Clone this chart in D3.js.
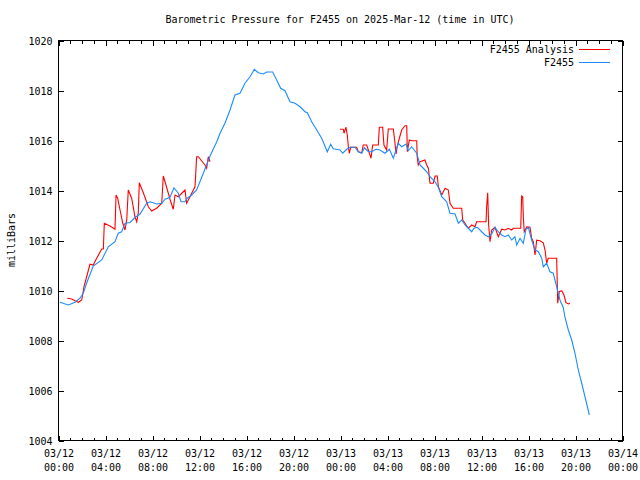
<!DOCTYPE html>
<html>
<head>
<meta charset="utf-8">
<script src="https://cdn.jsdelivr.net/npm/d3@7"></script>
<style>
  html, body { margin: 0; padding: 0; background: #fff; }
  svg { display: block; }
  text { font-family: "DejaVu Sans Mono", "Liberation Mono", monospace; font-size: 10px; fill: #000; }
</style>
</head>
<body>
<svg id="chart" width="640" height="480"></svg>
<script>
// ---- DATA (hours since 2025-03-12 00:00 UTC, pressure in millibars) ----
const chartTitle = "Barometric Pressure for F2455 on 2025-Mar-12 (time in UTC)";
const yLabel = "milliBars";
const seriesNames = ["F2455 Analysis", "F2455"];
const yTickValues = [1004, 1006, 1008, 1010, 1012, 1014, 1016, 1018, 1020];

const analysisHours = [
  0.79, 1.17, 1.45, 1.73, 2.02, 2.21, 2.44, 2.72, 3.00, 3.29, 3.72, 3.86, 3.94, 4.43, 4.85, 4.94,
  5.08, 5.28, 5.51, 5.70, 5.85, 5.98, 6.27, 6.55, 6.70, 6.83, 6.92, 7.26, 7.69, 7.97, 8.40, 8.83,
  8.96, 9.11, 9.39, 9.53, 9.81, 9.96, 10.24, 10.53, 10.81, 10.95, 11.23, 11.66, 11.80, 11.94, 12.51, 12.65,
  12.79, 12.94, 18.00,
  24.00, 24.28, 24.34, 24.51, 24.62, 24.71, 24.79, 24.91, 25.42, 25.56, 25.85, 25.98, 26.27, 26.41, 26.64, 26.78,
  27.26, 27.35, 27.63, 27.74, 27.97, 28.11, 28.54, 28.68, 28.77, 28.88, 29.05, 29.25, 29.53, 29.68, 29.73, 29.90,
  30.10, 30.53, 30.57, 30.66, 30.81, 31.23, 31.38, 31.52, 31.66, 31.94, 32.09, 32.28, 32.37, 32.66, 32.94, 33.22,
  33.36, 33.64, 34.36, 34.44, 34.64, 34.92, 35.21, 35.49, 35.63, 36.43, 36.48, 36.57, 36.65, 36.77, 36.91, 37.19,
  37.47, 37.76, 38.04, 38.32, 38.61, 38.75, 39.38, 39.46, 39.55, 39.60, 39.68, 39.89, 40.17, 40.31, 40.45, 40.60,
  40.74, 41.02, 41.30, 41.45, 41.59, 41.72, 42.44, 42.53, 42.66, 42.87, 43.06, 43.23, 43.43, 43.57
];
const analysisPressure = [
  1009.67, 1009.64, 1009.57, 1009.51, 1009.60, 1010.13, 1010.53, 1011.03, 1011.00, 1011.27, 1011.64, 1011.64, 1012.67, 1012.56, 1012.43, 1013.80,
  1013.67, 1013.20, 1012.67, 1012.40, 1012.80, 1014.00, 1013.67, 1012.93, 1012.73, 1013.07, 1014.29, 1013.89, 1013.33, 1013.16, 1013.27, 1013.47,
  1014.56, 1014.33, 1013.87, 1013.63, 1013.23, 1013.80, 1013.73, 1013.87, 1014.00, 1013.47, 1013.73, 1014.13, 1015.33, 1015.33, 1015.00, 1014.87,
  1015.33, 1015.13, null,
  1016.43, 1016.43, 1016.27, 1016.51, 1016.20, 1015.73, 1015.47, 1015.71, 1015.71, 1015.53, 1015.49, 1015.80, 1015.80, 1015.60, 1015.27, 1015.80,
  1015.80, 1016.51, 1016.51, 1015.80, 1015.60, 1016.44, 1016.44, 1015.87, 1015.44, 1015.76, 1016.07, 1016.40, 1016.57, 1016.57, 1015.53, 1016.00,
  1015.97, 1015.97, 1015.33, 1015.00, 1015.13, 1015.20, 1015.00, 1014.87, 1014.27, 1014.27, 1014.56, 1014.56, 1014.13, 1013.80, 1014.07, 1014.00,
  1013.47, 1013.27, 1013.27, 1012.80, 1012.67, 1012.47, 1012.60, 1012.53, 1012.73, 1012.73, 1013.33, 1013.89, 1012.60, 1011.93, 1012.40, 1012.51,
  1012.13, 1012.43, 1012.40, 1012.47, 1012.40, 1012.47, 1012.47, 1013.76, 1013.73, 1012.93, 1012.33, 1012.53, 1012.51, 1012.07, 1011.93, 1011.40,
  1011.99, 1011.97, 1011.89, 1011.60, 1011.07, 1011.27, 1011.27, 1009.47, 1009.93, 1009.97, 1009.80, 1009.49, 1009.44, 1009.47
];

const stationHours = [
  0.17, 0.88, 1.45, 1.87, 2.15, 2.44, 2.87, 3.00, 3.72, 4.28, 4.85, 5.13, 5.42, 5.70, 6.13, 6.55,
  6.98, 7.55, 7.83, 8.40, 8.83, 9.11, 9.53, 9.87, 10.24, 10.47, 10.81, 11.00, 11.38, 11.80, 12.37, 12.94,
  13.51, 13.79, 14.21, 14.64, 15.06, 15.49, 15.91, 16.34, 16.71, 17.05, 17.47, 17.76, 18.27, 18.61, 18.95, 19.32,
  19.74, 20.17, 20.60, 21.02, 21.22, 21.59, 22.02, 22.44, 22.92, 23.21, 23.43, 24.00, 24.23, 24.57, 24.85, 25.28,
  25.56, 25.85, 26.07, 26.41, 26.70, 27.06, 27.40, 27.83, 28.20, 28.54, 28.96, 29.25, 29.62, 29.81, 30.10, 30.53,
  30.81, 31.09, 31.38, 31.66, 32.09, 32.37, 32.66, 33.08, 33.36, 33.79, 34.07, 34.36, 34.64, 34.92, 35.21, 35.40,
  35.69, 36.06, 36.34, 36.62, 36.91, 37.19, 37.47, 37.76, 38.04, 38.32, 38.61, 38.89, 39.04, 39.32, 39.60, 39.83,
  40.03, 40.31, 40.60, 40.88, 41.17, 41.30, 41.59, 41.87, 42.15, 42.44, 42.72, 43.00, 43.15, 43.43, 43.72, 44.00,
  44.28, 44.57, 44.85, 45.22
];
const stationPressure = [
  1009.51, 1009.40, 1009.51, 1009.67, 1009.87, 1010.28, 1010.80, 1010.96, 1011.20, 1011.73, 1011.93, 1012.27, 1012.33, 1012.67, 1012.70, 1012.90,
  1013.04, 1013.47, 1013.53, 1013.44, 1013.47, 1013.63, 1013.71, 1014.09, 1013.87, 1013.53, 1013.53, 1013.67, 1013.80, 1014.00, 1014.67, 1015.36,
  1015.93, 1016.27, 1016.67, 1017.20, 1017.80, 1017.87, 1018.27, 1018.53, 1018.83, 1018.69, 1018.64, 1018.72, 1018.72, 1018.40, 1018.07, 1017.97,
  1017.53, 1017.47, 1017.33, 1017.13, 1017.09, 1016.73, 1016.40, 1016.07, 1015.53, 1015.83, 1015.65, 1015.60, 1015.47, 1015.63, 1015.71, 1015.71,
  1015.53, 1015.47, 1015.69, 1015.53, 1015.53, 1015.63, 1015.60, 1015.47, 1015.63, 1015.27, 1015.87, 1015.73, 1015.84, 1015.57, 1015.73, 1015.47,
  1015.00, 1014.87, 1014.73, 1014.53, 1014.33, 1014.11, 1013.73, 1013.53, 1013.07, 1013.04, 1012.67, 1012.80, 1012.60, 1012.47, 1012.33, 1012.47,
  1012.51, 1012.33, 1012.20, 1012.13, 1012.24, 1012.51, 1012.33, 1012.20, 1012.13, 1012.20, 1012.00, 1012.13, 1011.80, 1012.07, 1011.87, 1012.43,
  1012.51, 1012.00, 1011.60, 1011.53, 1011.27, 1010.93, 1011.07, 1010.73, 1010.67, 1010.13, 1009.60, 1009.30, 1008.90, 1008.40, 1008.00, 1007.47,
  1006.80, 1006.27, 1005.73, 1005.00
];

// ---- CHART ----
const base = Date.UTC(2025, 2, 12, 0, 0);
const toDate = h => new Date(base + h * 3600000);
const analysis = analysisHours.map((h, i) => ({ t: toDate(h), v: analysisPressure[i] }));
const station = stationHours.map((h, i) => ({ t: toDate(h), v: stationPressure[i] }));

const plotL = 58, plotR = 622, plotT = 40, plotB = 440;
const svg = d3.select("#chart");

const x = d3.scaleUtc().domain([new Date(base), new Date(base + 48 * 3600000)]).range([plotL, plotR]);
const y = d3.scaleLinear().domain([1004, 1020]).range([plotB, plotT]);

const fontFam = '"DejaVu Sans Mono", "Liberation Mono", monospace';

// minor x ticks (hourly), bottom & top
svg.append("g").attr("transform", `translate(0.5,${plotB + 0.5})`)
  .call(d3.axisBottom(x).ticks(d3.utcHour.every(1)).tickSize(-3).tickFormat(""));
svg.append("g").attr("transform", `translate(0.5,${plotT + 0.5})`)
  .call(d3.axisTop(x).ticks(d3.utcHour.every(1)).tickSize(-3).tickFormat(""));

// major x ticks
const fmtDay = d3.utcFormat("%m/%d"), fmtTime = d3.utcFormat("%H:%M");
const xAxisB = svg.append("g").attr("transform", `translate(0.5,${plotB + 0.5})`)
  .call(d3.axisBottom(x).ticks(d3.utcHour.every(4)).tickSize(-5).tickPadding(0).tickFormat(""));
xAxisB.selectAll(".tick").each(function(d) {
  const t = d3.select(this).append("text")
    .attr("text-anchor", "middle").attr("fill", "#000")
    .style("font-family", fontFam).style("font-size", "10px");
  t.append("tspan").attr("x", 0).attr("y", 16).text(fmtDay(d));
  t.append("tspan").attr("x", 0).attr("y", 30).text(fmtTime(d));
});
svg.append("g").attr("transform", `translate(0.5,${plotT + 0.5})`)
  .call(d3.axisTop(x).ticks(d3.utcHour.every(4)).tickSize(-5).tickFormat(""));

// y ticks left & right
const yAxisL = svg.append("g").attr("transform", `translate(${plotL + 0.5},0.5)`)
  .call(d3.axisLeft(y).tickValues(yTickValues).tickSize(-5).tickPadding(6).tickFormat(d3.format("d")));
svg.append("g").attr("transform", `translate(${plotR + 0.5},0.5)`)
  .call(d3.axisRight(y).tickValues(yTickValues).tickSize(-5).tickFormat(""));

svg.selectAll(".domain").remove();
svg.selectAll(".tick line").attr("stroke", "#000").attr("shape-rendering", "crispEdges");
svg.selectAll("g text").style("font-family", fontFam).style("font-size", "10px").attr("fill", "#000");
yAxisL.selectAll("text").attr("dy", "0.36em");

// border
svg.append("rect").attr("x", plotL + 0.5).attr("y", plotT + 0.5)
  .attr("width", plotR - plotL).attr("height", plotB - plotT)
  .attr("fill", "none").attr("stroke", "#000").attr("stroke-width", 1)
  .attr("shape-rendering", "crispEdges");

// lines
const line = d3.line().defined(d => d.v != null).x(d => x(d.t)).y(d => y(d.v));
const colors = ["#ff0000", "#1a8cff"];
svg.append("path").datum(analysis).attr("d", line)
  .attr("fill", "none").attr("stroke", colors[0]).attr("stroke-width", 1.1);
svg.append("path").datum(station).attr("d", line)
  .attr("fill", "none").attr("stroke", colors[1]).attr("stroke-width", 1.1);

// title
svg.append("text").attr("x", 340).attr("y", 23).attr("text-anchor", "middle").text(chartTitle);

// y label
svg.append("text").attr("transform", "translate(15,240) rotate(-90)")
  .attr("text-anchor", "middle").text(yLabel);

// legend
seriesNames.forEach((name, i) => {
  const ly = 49 + i * 13;
  svg.append("text").attr("x", 574).attr("y", ly + 4).attr("text-anchor", "end").text(name);
  svg.append("line").attr("x1", 579).attr("x2", 610).attr("y1", ly + 0.5).attr("y2", ly + 0.5)
    .attr("stroke", colors[i]).attr("stroke-width", 1).attr("shape-rendering", "crispEdges");
});
</script>
</body>
</html>
